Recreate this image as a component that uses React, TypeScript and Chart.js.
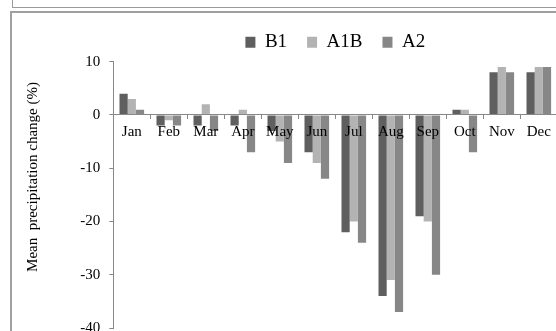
import React, { useEffect, useRef } from "react";
import { Chart, registerables } from "chart.js";

Chart.register(...registerables);

const months = ["Jan", "Feb", "Mar", "Apr", "May", "Jun", "Jul", "Aug", "Sep", "Oct", "Nov", "Dec"];
const b1Values = [4, -2, -2, -2, -3, -7, -22, -34, -19, 1, 8, 8];
const a1bValues = [3, -1, 2, 1, -5, -9, -20, -31, -20, 1, 9, 9];
const a2Values = [1, -2, -3, -7, -9, -12, -24, -37, -30, -7, 8, 9];
const seriesNames = ["B1", "A1B", "A2"];
const seriesColors = ["#5f5f5f", "#b3b3b3", "#878787"];
const yMin = -40;
const yMax = 10;
const yStep = 10;
const yTitle = "Mean  precipitation change (%)";

const FONT = "'Liberation Serif', 'Times New Roman', serif";

const yTitlePlugin = {
  id: "yTitleCustom",
  afterDraw(chart: any) {
    const ctx = chart.ctx;
    ctx.save();
    ctx.translate(37, 177);
    ctx.rotate(-Math.PI / 2);
    ctx.font = `15px ${FONT}`;
    ctx.fillStyle = "#000";
    ctx.textAlign = "center";
    ctx.textBaseline = "alphabetic";
    ctx.fillText(yTitle, 0, 0);
    ctx.restore();
  },
};

export default function App() {
  const canvasRef = useRef<HTMLCanvasElement | null>(null);

  useEffect(() => {
    if (!canvasRef.current) return;
    Chart.defaults.font.family = FONT;
    const seriesData = [b1Values, a1bValues, a2Values];
    const chart = new Chart(canvasRef.current, {
      type: "bar",
      data: {
        labels: months,
        datasets: seriesNames.map((name, i) => ({
          label: name,
          data: seriesData[i],
          backgroundColor: seriesColors[i],
          borderWidth: 0,
          categoryPercentage: 0.665,
          barPercentage: 1,
        })),
      },
      options: {
        responsive: false,
        animation: false,
        layout: { padding: { left: 0, top: 12.7, right: 22.7, bottom: 3.3 } },
        plugins: {
          legend: {
            position: "top",
            fullSize: false,
            labels: {
              boxWidth: 10,
              boxHeight: 11,
              padding: 20,
              color: "#000",
              font: { size: 19, family: FONT },
            },
          },
          tooltip: { enabled: false },
        },
        scales: {
          x: {
            position: { y: 0 } as any,
            grid: { offset: true, drawOnChartArea: false, tickLength: 4, color: "#888", z: 1 },
            border: { color: "#888", width: 1, z: 1 },
            ticks: { color: "#000", font: { size: 15, family: FONT }, padding: 4, maxRotation: 0, autoSkip: false, z: 1 },
          },
          y: {
            min: yMin,
            max: yMax,
            ticks: { stepSize: yStep, color: "#000", font: { size: 15, family: FONT }, padding: 9 },
            grid: { drawOnChartArea: false, tickLength: 4, color: "#888" },
            border: { color: "#888", width: 1 },
            afterFit: (s: any) => {
              s.width = 113.3;
            },
          },
        },
      },
      plugins: [yTitlePlugin],
    });
    return () => chart.destroy();
  }, []);

  return (
    <div style={{ position: "fixed", left: 0, top: 0, width: 556, height: 331, overflow: "hidden", background: "#fff" }}>
      <div style={{ position: "absolute", left: 12, top: -30, width: 600, height: 38, border: "1.5px solid #9a9a9a", boxSizing: "border-box" }} />
      <div style={{ position: "absolute", left: 10, top: 11.3, width: 600, height: 400, border: "2px solid #a0a0a0", boxSizing: "border-box" }} />
      <canvas ref={canvasRef} width={580} height={346} style={{ position: "absolute", left: 0, top: 0, display: "block" }} />
    </div>
  );
}
